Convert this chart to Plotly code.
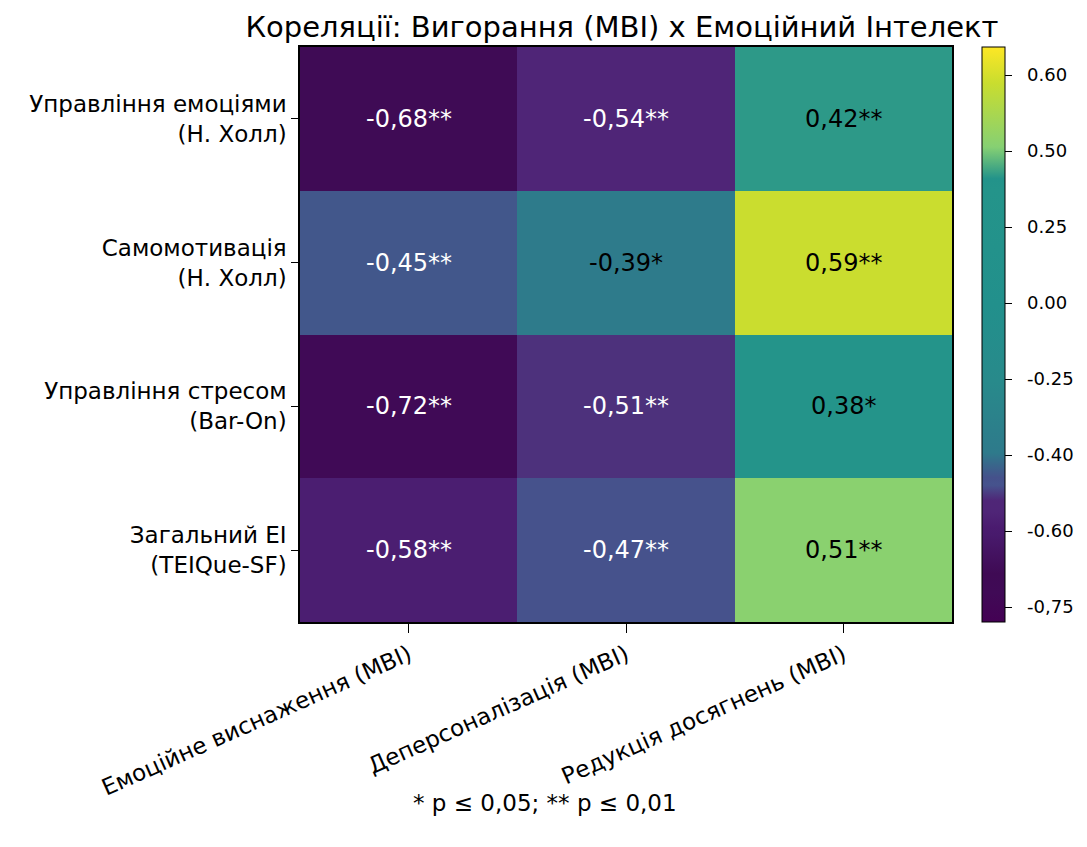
import numpy as np
import plotly.graph_objects as go

# ---------------- data ----------------
ei_scales = [
    "Управління емоціями<br>(Н. Холл)",
    "Самомотивація<br>(Н. Холл)",
    "Управління стресом<br>(Bar-On)",
    "Загальний EI<br>(TEIQue-SF)",
]
mbi_scales = [
    "Емоційне виснаження (MBI)",
    "Деперсоналізація (MBI)",
    "Редукція досягнень (MBI)",
]
corr = [
    [-0.68, -0.54, 0.42],
    [-0.45, -0.39, 0.59],
    [-0.72, -0.51, 0.38],
    [-0.58, -0.47, 0.51],
]
signif = [
    ["**", "**", "**"],
    ["**", "*", "**"],
    ["**", "**", "*"],
    ["**", "**", "**"],
]
cbar_labels = [-0.75, -0.60, -0.40, -0.25, 0.00, 0.25, 0.50, 0.60]

# ---------------- colour axis (non-uniform, as in the reference) ----------------
cb_pos = np.linspace(0.026, 0.951, len(cbar_labels))  # equally spaced tick positions
corr_arr = np.array(corr)
z = np.interp(corr_arr, cbar_labels, cb_pos)

colorscale = [
    [0.000, "#440154"],
    [0.051, "#400a56"],
    [0.084, "#3f0a54"],
    [0.151, "#481a6c"],
    [0.164, "#4a1b6f"],
    [0.191, "#4f2577"],
    [0.211, "#4f2677"],
    [0.238, "#46538d"],
    [0.251, "#45518b"],
    [0.294, "#2e7a8b"],
    [0.419, "#288a8b"],
    [0.551, "#22908c"],
    [0.751, "#24948a"],
    [0.771, "#23938a"],
    [0.826, "#86d073"],
    [0.937, "#c9dd2f"],
    [1.000, "#fde725"],
]

def fmt(v, s):
    return f"{v:.2f}".replace(".", ",") + s

def cb_label(t):
    s = f"{t:.2f}"
    if t == -0.75:
        s = s.replace(".", ",")
    return "\u00a0\u00a0" + s

text = [[fmt(v, s) for v, s in zip(row, srow)] for row, srow in zip(corr, signif)]

FONT = "DejaVu Sans"

fig = go.Figure(
    go.Heatmap(
        z=z,
        x=mbi_scales,
        y=ei_scales,
        colorscale=colorscale,
        zmin=0,
        zmax=1,
        showscale=True,
        colorbar=dict(
            tickmode="array",
            tickvals=list(cb_pos),
            ticktext=[cb_label(t) for t in cbar_labels],
            ticks="outside",
            ticklen=7,
            tickwidth=1,
            tickcolor="black",
            tickfont=dict(family=FONT, size=18, color="black"),
            outlinecolor="black",
            outlinewidth=1,
            thickness=23,
            len=1,
            lenmode="fraction",
            y=0.5,
            yanchor="middle",
            x=1.046,
            xanchor="left",
            xpad=0,
            ypad=0,
        ),
        hoverinfo="skip",
    )
)

# cell annotations
for i, row in enumerate(corr):
    for j, v in enumerate(row):
        dark_text = v > -0.4
        fig.add_annotation(
            x=mbi_scales[j],
            y=ei_scales[i],
            text=text[i][j],
            showarrow=False,
            font=dict(family=FONT, size=24,
                      color="black" if dark_text else "white"),
        )

fig.add_annotation(
    x=0.3756, y=-0.315, xref="paper", yref="paper",
    text="* p ≤ 0,05; ** p ≤ 0,01",
    showarrow=False,
    font=dict(family=FONT, size=23, color="black"),
    xanchor="center", yanchor="middle",
)

fig.update_layout(
    width=1079,
    height=839,
    margin=dict(l=292, r=132, t=39, b=225),
    paper_bgcolor="white",
    plot_bgcolor="white",
    title=dict(
        text="Кореляції: Вигорання (MBI) x Емоційний Інтелект",
        x=0.569, xref="container", xanchor="center",
        y=0.977, yanchor="middle",
        font=dict(family=FONT, size=29, color="black"),
    ),
    xaxis=dict(
        tickangle=-24,
        ticks="outside",
        ticklen=9,
        tickcolor="black",
        tickfont=dict(family=FONT, size=23, color="black"),
        showline=True, linecolor="black", linewidth=1.5, mirror=True,
        showgrid=False, zeroline=False,
    ),
    yaxis=dict(
        autorange="reversed",
        ticks="outside",
        ticklen=7,
        tickcolor="black",
        tickfont=dict(family=FONT, size=23, color="black"),
        showline=True, linecolor="black", linewidth=1.5, mirror=True,
        showgrid=False, zeroline=False,
    ),
)

fig.write_html("out.html")
